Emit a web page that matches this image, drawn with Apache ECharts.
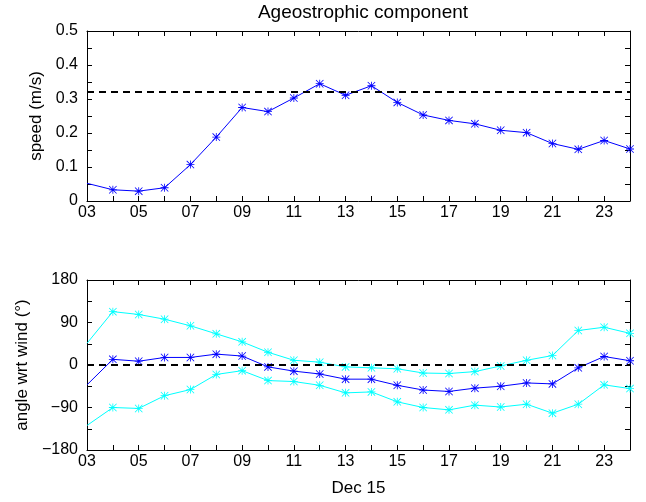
<!DOCTYPE html>
<html>
<head>
<meta charset="utf-8">
<script src="https://cdn.jsdelivr.net/npm/echarts@6/dist/echarts.min.js"></script>
<style>
  html, body { margin: 0; padding: 0; background: #fff; }
  #chart { width: 646px; height: 502px; }
</style>
</head>
<body>
<div id="chart"></div>
<script>
// hours of Dec 15
const hours = [3, 4, 5, 6, 7, 8, 9, 10, 11, 12, 13, 14, 15, 16, 17, 18, 19, 20, 21, 22, 23, 24];
const speed = [0.052, 0.033, 0.029, 0.039, 0.107, 0.188, 0.275, 0.263, 0.303, 0.345, 0.311, 0.339,
  0.290, 0.253, 0.237, 0.227, 0.208, 0.201, 0.169, 0.152, 0.178, 0.153];
const speedRef = 0.322;
const angle = [-42, 12, 8, 16, 16, 23, 19, -4, -13, -19, -30, -30, -43, -53, -56, -49, -45, -38, -40, -6, 18, 9];
const angleUpper = [46, 113, 107, 97, 83, 66, 49, 27, 10, 6, -4, -6, -8, -17, -18, -14, -2, 10, 20, 73, 80, 67];
const angleLower = [-128, -90, -92, -65, -52, -20, -12, -33, -35, -43, -59, -57, -78, -90, -95, -85, -89, -83, -102, -83, -42, -50];
const angleRef = 0;

// asterisk marker like matlab '*'
const star = 'path://M9 0L11 0L11 20L9 20Z M0 9L20 9L20 11L0 11Z M0 1.4L1.4 0L20 18.6L18.6 20Z M1.4 20L0 18.6L18.6 0L20 1.4Z';

const font = 'Liberation Sans';
const tickStyle = { color: '#000', fontSize: 16, fontFamily: font };
const nameStyle = { color: '#000', fontSize: 17, fontFamily: font };

// first sample sits on the left edge, matlab clips its marker
const pairs = (ys) => hours.map((h, i) => (i === 0 ? { value: [h, ys[i]], itemStyle: { opacity: 0 } } : [h, ys[i]]));

function xAxes(grid, name) {
  const base = {
    type: 'value', gridIndex: grid, min: 3, max: 24, interval: 1,
    axisLine: { onZero: false, lineStyle: { color: '#000', width: 1 } },
    axisTick: { inside: true, length: 5, lineStyle: { color: '#000' } },
    splitLine: { show: false }
  };
  return [
    Object.assign({}, base, {
      position: 'bottom',
      name: name, nameLocation: 'middle', nameGap: 30,
      nameTextStyle: nameStyle,
      axisLabel: Object.assign({}, tickStyle, {
        margin: 4,
        formatter: v => ((v - 3) % 2 === 0 ? String(v).padStart(2, '0') : '')
      })
    }),
    Object.assign({}, base, { position: 'top', axisLabel: { show: false } })
  ];
}

function yAxes(grid, min, max, step, labelStep, fmt, name, gap) {
  const base = {
    type: 'value', gridIndex: grid, min: min, max: max, interval: step,
    axisLine: { show: true, onZero: false, lineStyle: { color: '#000', width: 1 } },
    axisTick: { show: true, inside: true, length: 5, lineStyle: { color: '#000' } },
    splitLine: { show: false }
  };
  return [
    Object.assign({}, base, {
      position: 'left',
      name: name, nameLocation: 'middle', nameRotate: 90, nameGap: gap,
      nameTextStyle: nameStyle,
      axisLabel: Object.assign({}, tickStyle, {
        margin: 9,
        formatter: v => {
          const k = Math.round(v / step);
          return (k % labelStep === 0) ? fmt(v) : '';
        }
      })
    }),
    Object.assign({}, base, { position: 'right', axisLabel: { show: false } })
  ];
}

function line(color, data, xi, yi, extra) {
  return Object.assign({
    type: 'line', xAxisIndex: xi, yAxisIndex: yi, data: data,
    symbol: star, symbolSize: 8, showAllSymbol: true,
    lineStyle: { color: color, width: 1 },
    itemStyle: { color: color },
    animation: false, z: 3
  }, extra || {});
}

function refLine(value) {
  return {
    silent: true, symbol: 'none', label: { show: false },
    lineStyle: { color: '#000', type: [7, 5], width: 2 },
    data: [{ yAxis: value }]
  };
}

const option = {
  backgroundColor: '#fff',
  animation: false,
  title: {
    text: 'Ageostrophic component', left: 358, top: -2, textAlign: 'center',
    textStyle: { color: '#000', fontSize: 19, fontWeight: 'normal', fontFamily: font }
  },
  grid: [
    { left: 87, right: 16, top: 31, height: 170 },
    { left: 87, right: 16, top: 280, height: 170 }
  ],
  xAxis: [].concat(xAxes(0, ''), xAxes(1, 'Dec 15')),
  yAxis: [].concat(
    yAxes(0, 0, 0.5, 0.05, 2, v => (v === 0 ? '0' : v.toFixed(1)), 'speed (m/s)', 35),
    yAxes(1, -180, 180, 45, 2, v => (v < 0 ? '\u2212' + Math.abs(v) : String(v)), 'angle wrt wind (\u00b0)', 46)
  ),
  series: [
    line('#0000ff', pairs(speed), 0, 0, { markLine: refLine(speedRef) }),
    line('#00ffff', pairs(angleUpper), 2, 2),
    line('#00ffff', pairs(angleLower), 2, 2),
    line('#0000ff', pairs(angle), 2, 2, { markLine: refLine(angleRef), z: 4 })
  ]
};

echarts.init(document.getElementById('chart')).setOption(option);
</script>
</body>
</html>
